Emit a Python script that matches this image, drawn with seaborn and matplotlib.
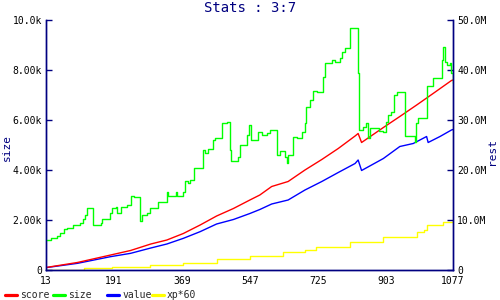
import matplotlib
matplotlib.use("Agg")
import matplotlib.pyplot as plt
import seaborn as sns
import pandas as pd
from matplotlib.ticker import FixedLocator, FixedFormatter

# ---- data ----
size_x = [13, 25, 41, 50, 60, 69, 84, 102, 110, 114, 121, 137, 156, 160, 180, 186, 195, 199, 210, 224,
          236, 243, 259, 265, 278, 285, 306, 329, 331, 353, 356, 370, 376, 385, 389, 401, 424, 428, 437,
          450, 455, 472, 485, 494, 497, 516, 520, 539, 544, 548, 568, 577, 590, 599, 616, 625, 638, 643,
          646, 659, 668, 681, 690, 694, 703, 712, 721, 738, 742, 760, 768, 781, 787, 795, 808, 829, 831,
          842, 849, 855, 860, 884, 895, 902, 908, 916, 923, 931, 951, 977, 979, 986, 1008, 1025, 1047,
          1050, 1056, 1062, 1069, 1071, 1077]
size_k = [1.20, 1.28, 1.36, 1.49, 1.63, 1.68, 1.81, 1.89, 2.04, 2.20, 2.47, 1.81, 1.89, 2.04, 2.27, 2.47,
          2.51, 2.29, 2.53, 2.60, 2.97, 2.91, 1.97, 2.20, 2.29, 2.47, 2.73, 3.13, 2.96, 3.13, 2.96, 3.13,
          3.57, 3.49, 3.60, 4.07, 4.80, 4.67, 4.83, 5.20, 5.27, 5.87, 5.93, 4.80, 4.37, 4.51, 5.00, 5.40,
          5.80, 5.20, 5.53, 5.40, 5.47, 5.60, 4.60, 4.77, 4.53, 4.27, 4.60, 5.33, 5.27, 5.53, 5.87, 6.53,
          6.80, 7.17, 7.13, 7.73, 8.27, 8.40, 8.33, 8.47, 8.73, 8.87, 9.67, 7.90, 5.60, 5.71, 5.89, 5.27,
          5.67, 5.57, 5.53, 5.93, 6.20, 6.33, 7.00, 7.13, 5.36, 5.13, 5.87, 6.07, 7.36, 7.67, 8.40, 8.93,
          8.33, 8.20, 8.29, 7.87, 7.47]

score_x = [13, 95, 182, 234, 287, 329, 372, 416, 459, 503, 546, 572, 603, 646, 690, 734, 777, 821, 829,
           838, 895, 938, 982, 1025, 1073, 1077]
score_m = [0.5, 1.5, 3.0, 3.9, 5.2, 6.0, 7.3, 9.0, 10.8, 12.3, 14.0, 15.0, 16.7, 17.7, 20.0, 22.1, 24.3,
           26.8, 27.3, 25.5, 28.5, 30.7, 33.0, 35.3, 37.9, 38.0]

value_x = [13, 95, 182, 234, 287, 329, 372, 416, 459, 503, 546, 572, 603, 646, 690, 734, 777, 821, 829,
           838, 895, 938, 973, 1008, 1012, 1043, 1073, 1077]
value_m = [0.47, 1.33, 2.67, 3.33, 4.4, 5.2, 6.33, 7.67, 9.2, 10.1, 11.3, 12.1, 13.2, 14.0, 16.0, 17.7,
           19.5, 21.3, 22.0, 19.9, 22.3, 24.7, 25.3, 26.7, 25.5, 26.7, 28.0, 28.1]

xp_x = [13, 112, 186, 285, 372, 459, 546, 633, 690, 720, 808, 895, 982, 1000, 1008, 1051, 1077]
xp_m = [0.05, 0.33, 0.53, 1.0, 1.45, 2.13, 2.85, 3.67, 4.0, 4.6, 5.67, 6.53, 7.67, 8.0, 9.0, 9.67, 9.9]

x_ticks = [13, 191, 369, 547, 725, 903, 1077]
left_ticks = [0, 2000, 4000, 6000, 8000, 10000]
left_labels = ["0", "2.00k", "4.00k", "6.00k", "8.00k", "10.0k"]
right_ticks = [0, 10e6, 20e6, 30e6, 40e6, 50e6]
right_labels = ["0", "10.0M", "20.0M", "30.0M", "40.0M", "50.0M"]

NAVY = "#000080"
FONT = "DejaVu Sans Mono"

sns.set_style("white")
plt.rcParams["font.family"] = [FONT]

fig = plt.figure(figsize=(5, 3), dpi=100)
ax = fig.add_axes([46 / 500, 1 - 270 / 300, 407 / 500, 250 / 300])
ax2 = ax.twinx()

df_size = pd.DataFrame({"x": size_x, "y": [v * 1000 for v in size_k]})
df_score = pd.DataFrame({"x": score_x, "y": [v * 1e6 for v in score_m]})
df_value = pd.DataFrame({"x": value_x, "y": [v * 1e6 for v in value_m]})
df_xp = pd.DataFrame({"x": xp_x, "y": [v * 1e6 for v in xp_m]})

lw = 1.0
sns.lineplot(data=df_xp, x="x", y="y", ax=ax2, color="#ffff00", lw=lw, estimator=None,
             drawstyle="steps-post")
sns.lineplot(data=df_value, x="x", y="y", ax=ax2, color="#0000ff", lw=lw, estimator=None)
sns.lineplot(data=df_score, x="x", y="y", ax=ax2, color="#ff0000", lw=lw, estimator=None)
sns.lineplot(data=df_size, x="x", y="y", ax=ax, color="#00ff00", lw=lw, estimator=None,
             drawstyle="steps-post")
ax.set_zorder(ax2.get_zorder() + 1)
ax.patch.set_visible(False)

ax.set_xlim(13, 1077)
ax.set_ylim(0, 10000)
ax2.set_ylim(0, 50e6)

ax.xaxis.set_major_locator(FixedLocator(x_ticks))
ax.xaxis.set_major_formatter(FixedFormatter([str(t) for t in x_ticks]))
ax.yaxis.set_major_locator(FixedLocator(left_ticks))
ax.yaxis.set_major_formatter(FixedFormatter(left_labels))
ax2.yaxis.set_major_locator(FixedLocator(right_ticks))
ax2.yaxis.set_major_formatter(FixedFormatter(right_labels))

for a in (ax, ax2):
    for s in a.spines.values():
        s.set_color(NAVY)
        s.set_linewidth(1.0)
    a.spines["top"].set_visible(False)
    a.grid(False)

ax.tick_params(axis="y", direction="in", length=4, width=1, color=NAVY,
               labelsize=7, labelcolor="black", pad=3)
ax.tick_params(axis="x", direction="in", length=4, width=1, color=NAVY,
               labelsize=7, labelcolor="black", pad=4)
ax2.tick_params(axis="y", direction="in", length=4, width=1, color=NAVY,
                labelsize=7, labelcolor="black", pad=3)

ax.set_xlabel("")
ax.set_ylabel("size", color=NAVY, fontsize=8)
ax.yaxis.set_label_coords(-0.085, 0.49)
ax2.set_ylabel("rest", color=NAVY, fontsize=8, rotation=90)
ax2.yaxis.set_label_coords(1.083, 0.475)

fig.text(0.5, 1 - 8 / 300, "Stats : 3:7", ha="center", va="center", color=NAVY, fontsize=10)

# legend, one entry per item
items = [("score", "#ff0000", 5), ("size", "#00ff00", 53), ("value", "#0000ff", 107),
         ("xp*60", "#ffff00", 152)]
for lab, col, px in items:
    h = matplotlib.lines.Line2D([], [], color=col, lw=2.3)
    fig.legend(handles=[h], labels=[lab], loc="center left",
               bbox_to_anchor=(px / 500, 1 - 295 / 300), frameon=False, borderpad=0,
               borderaxespad=0, handlelength=1.25, handletextpad=0.3, fontsize=7)

fig.savefig("out.png", dpi=100)
